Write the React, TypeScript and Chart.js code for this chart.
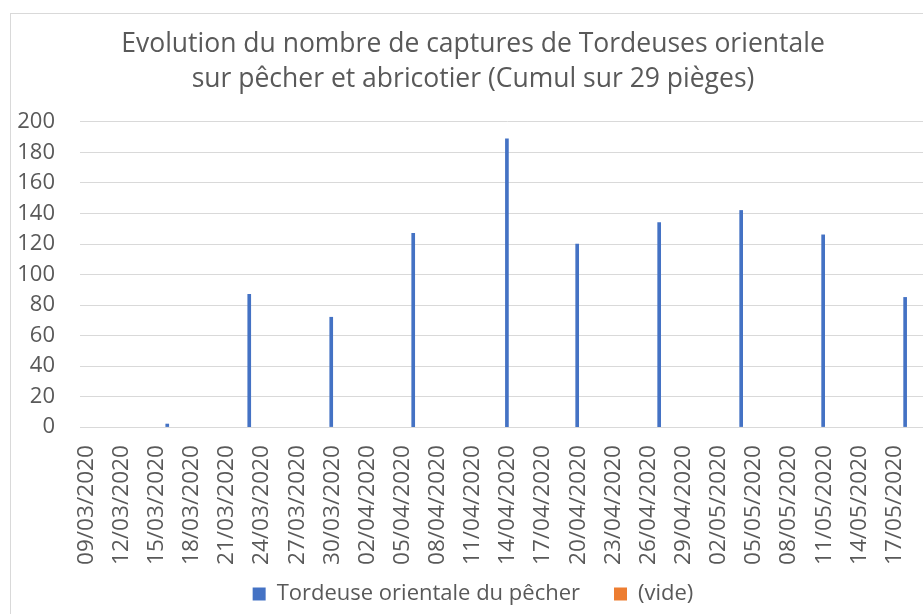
import { useEffect, useRef } from "react";
import { Chart, registerables } from "chart.js";

Chart.register(...registerables);

const chartTitle = [
  "Evolution du nombre de captures de Tordeuses orientale",
  "sur pêcher et abricotier (Cumul sur 29 pièges)",
];
const seriesNames = ["Tordeuse orientale du pêcher", "(vide)"];
const seriesColors = ["#4472C4", "#ED7D31"];
const axisStartDate = "09/03/2020";
const captureDates = [
  "16/03/2020", "23/03/2020", "30/03/2020", "06/04/2020", "14/04/2020",
  "20/04/2020", "27/04/2020", "04/05/2020", "11/05/2020", "18/05/2020",
];
const tordeuseValues = [2, 87, 72, 127, 189, 120, 134, 142, 126, 85];
const videValues: number[] = [];
const xTickLabels = [
  "09/03/2020", "12/03/2020", "15/03/2020", "18/03/2020", "21/03/2020", "24/03/2020",
  "27/03/2020", "30/03/2020", "02/04/2020", "05/04/2020", "08/04/2020", "11/04/2020",
  "14/04/2020", "17/04/2020", "20/04/2020", "23/04/2020", "26/04/2020", "29/04/2020",
  "02/05/2020", "05/05/2020", "08/05/2020", "11/05/2020", "14/05/2020", "17/05/2020",
];
const yMin = 0;
const yMax = 200;
const yStep = 20;

function toUTC(s: string): number {
  const [d, m, y] = s.split("/").map(Number);
  return Date.UTC(y, m - 1, d);
}
function dayIndex(s: string): number {
  return Math.round((toUTC(s) - toUTC(axisStartDate)) / 86400000);
}

const TEXT = "#595959";
const GRID = "#D9D9D9";
const FONT = "'Open Sans', sans-serif";

const legendShift = {
  id: "legendShift",
  afterLayout(chart: any) {
    if (chart.legend) {
      chart.legend.top -= 34;
    }
  },
};

export default function App() {
  const ref = useRef<HTMLCanvasElement | null>(null);

  useEffect(() => {
    if (!ref.current) return;
    const tickMap = new Map<number, string>();
    xTickLabels.forEach((l) => tickMap.set(dayIndex(l), l));

    const chart = new Chart(ref.current, {
      type: "bar",
      data: {
        datasets: [
          {
            label: seriesNames[0],
            data: captureDates.map((d, i) => ({ x: dayIndex(d), y: tordeuseValues[i] })),
            backgroundColor: seriesColors[0],
            borderWidth: 0,
            barThickness: 3,
            grouped: false,
          },
          {
            label: seriesNames[1],
            data: videValues.map((v, i) => ({ x: i, y: v })),
            backgroundColor: seriesColors[1],
            borderWidth: 0,
            barThickness: 3,
            grouped: false,
          },
        ],
      },
      plugins: [legendShift],
      options: {
        animation: false,
        responsive: false,
        devicePixelRatio: 1,
        layout: { padding: 0 },
        plugins: {
          title: {
            display: true,
            text: chartTitle,
            color: TEXT,
            font: { family: FONT, size: 26.5, weight: "normal", lineHeight: 1.32 },
            padding: { top: 13, bottom: 25 },
          },
          legend: {
            display: true,
            position: "bottom",
            maxHeight: 31,
            labels: {
              color: TEXT,
              font: { family: FONT, size: 22 },
              boxWidth: 13,
              boxHeight: 13,
              padding: 34,
            },
          },
          tooltip: { enabled: false },
        },
        scales: {
          x: {
            type: "linear",
            offset: false,
            min: -0.45,
            max: 72.55,
            grid: { display: false, drawTicks: false },
            border: { display: true, color: GRID, width: 1 },
            afterBuildTicks: (scale: any) => {
              scale.ticks = xTickLabels.map((l) => ({ value: dayIndex(l) }));
            },
            afterFit: (scale: any) => {
              scale.paddingLeft = 0;
              scale.paddingRight = 0;
            },
            ticks: {
              autoSkip: false,
              minRotation: 90,
              maxRotation: 90,
              color: TEXT,
              font: { family: FONT, size: 22.6 },
              padding: 18,
              labelOffset: 1,
              callback: (v: any) => tickMap.get(Number(v)) ?? "",
            },
          },
          y: {
            min: yMin,
            max: yMax,
            grid: { color: GRID, lineWidth: 1, drawTicks: false },
            border: { display: false },
            afterFit: (scale: any) => {
              scale.width = 69;
            },
            ticks: {
              stepSize: yStep,
              autoSkip: false,
              color: TEXT,
              font: { family: FONT, size: 22 },
              padding: 25,
            },
          },
        },
      },
    });
    return () => chart.destroy();
  }, []);

  return (
    <div style={{ position: "fixed", inset: 0, overflow: "hidden", background: "#fff" }}>
      <div
        style={{
          position: "absolute",
          left: 10,
          top: 13,
          width: 1000,
          height: 700,
          borderLeft: "1px solid #D9D9D9",
          borderTop: "1px solid #D9D9D9",
        }}
      >
        <canvas ref={ref} width={924} height={600} style={{ display: "block", width: 924, height: 600 }} />
      </div>
    </div>
  );
}
